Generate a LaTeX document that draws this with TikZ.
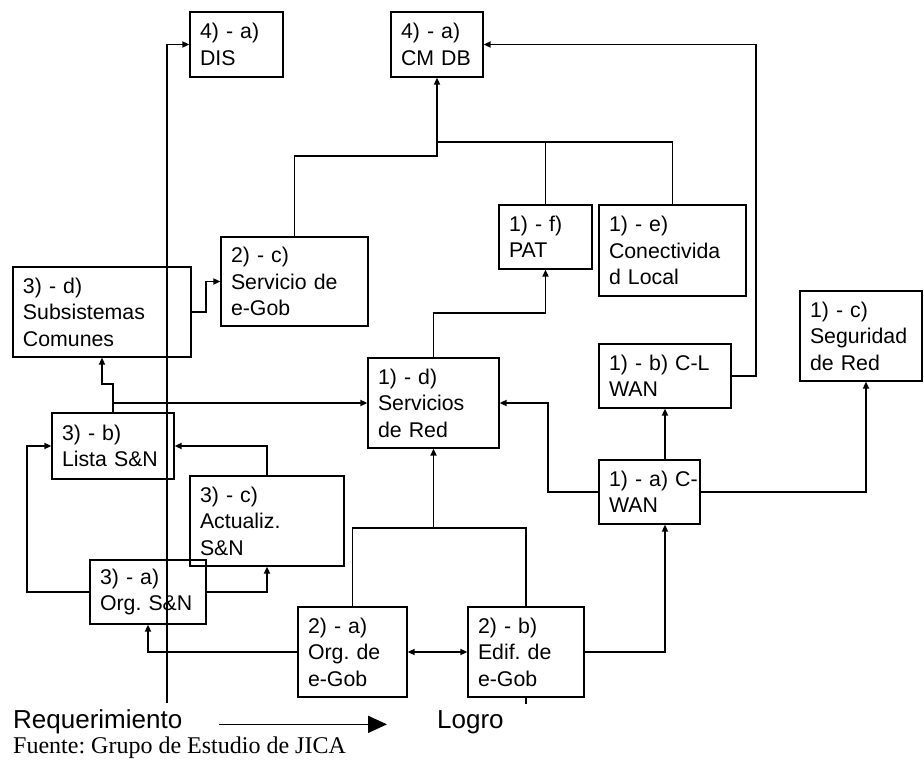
\documentclass[tikz,border=0pt]{standalone}
\usepackage{fontspec}
\setmainfont{Liberation Sans}
\newfontfamily\fuentefont{Liberation Serif}
\usetikzlibrary{arrows.meta}
\begin{document}
\frenchspacing
\begin{tikzpicture}[x=1pt,y=-1pt,
 box/.style={draw, line width=1.3pt, align=left, inner xsep=10pt, inner ysep=0pt, font=\fontsize{21.3}{26.5}\selectfont},
 conn/.style={line width=1.9pt},
 arr/.style={conn, -{Triangle[length=7pt,width=6pt]}},
 darr/.style={conn, {Triangle[length=7pt,width=6pt]}-{Triangle[length=7pt,width=6pt]}},
 lbl/.style={anchor=base west, inner sep=0pt, font=\fontsize{26}{30}\selectfont},
]
\useasboundingbox (0,0) rectangle (924,765);

% boxes
\node[box, minimum width=93pt, minimum height=65pt, text width=73pt] (nDIS) at (236.5,44.5) {4) - a)\\DIS};
\node[box, minimum width=92pt, minimum height=65pt, text width=72pt] (nCMDB) at (437,44.5) {4) - a)\\CM DB};
\node[box, minimum width=93pt, minimum height=64pt, text width=73pt] (nPAT) at (545.5,237) {1) - f)\\PAT};
\node[box, minimum width=147pt, minimum height=91pt, text width=127pt] (nCON) at (672.5,250.5) {1) - e)\\Conectivida\\d Local};
\node[box, minimum width=147pt, minimum height=89pt, text width=127pt] (nSG) at (294.5,281.5) {2) - c)\\Servicio de\\e-Gob};
\node[box, minimum width=178pt, minimum height=90pt, text width=158pt] (nSC) at (102,312) {3) - d)\\Subsistemas\\Comunes};
\node[box, minimum width=122pt, minimum height=90pt, text width=102pt] (nSEG) at (861,336) {1) - c)\\Seguridad\\de Red};
\node[box, minimum width=132pt, minimum height=64pt, text width=112pt] (nCLW) at (665,376) {\mbox{1) - b) C-L}\\WAN};
\node[box, minimum width=131pt, minimum height=90pt, text width=111pt] (nSR) at (433.5,403) {1) - d)\\Servicios\\de Red};
\node[box, minimum width=122pt, minimum height=66pt, text width=102pt] (nLS) at (113,446) {3) - b)\\Lista S\&N};
\node[box, minimum width=101pt, minimum height=64pt, text width=81pt] (nCW) at (649.5,492) {\mbox{1) - a) C-}\\WAN};
\node[box, minimum width=154pt, minimum height=90pt, text width=134pt] (nAC) at (267,521) {3) - c)\\Actualiz.\\S\&N};
\node[box, minimum width=116pt, minimum height=64pt, text width=96pt] (nOS) at (148,592) {3) - a)\\Org. S\&N};
\node[box, minimum width=109pt, minimum height=90pt, text width=89pt] (nOG) at (352.5,652) {2) - a)\\Org. de\\e-Gob};
\node[box, minimum width=116pt, minimum height=90pt, text width=96pt] (nEG) at (526,652) {2) - b)\\Edif. de\\e-Gob};

% junction coordinates
\coordinate (j1) at (437,156);
\coordinate (j2) at (437,142);
\coordinate (r1) at (756,44.5);
\coordinate (lb) at (167,703);
\coordinate (bus2) at (433.5,528);
\coordinate (l1) at (27,446);
\coordinate (k1) at (548,403);
\coordinate (p1) at (546,313);

% connectors
\draw[arr] (nSG.north) |- (j1) -- (nCMDB.south);
\draw[conn] (nPAT.north) -- (nPAT.north |- j2);
\draw[conn] (nCON.north) |- (j2) -- (j1);
\draw[arr] (nCLW.east) -| (r1) -- (nCMDB.east);
\draw[arr] (lb) |- (nDIS.west);
\draw[arr] (nSR.north) |- (nPAT.south |- p1) -- (nPAT.south);
\draw[arr] (nCW.north -| nCLW.south) -- (nCLW.south);
\draw[arr] (nCW.east) -| ([xshift=5pt]nSEG.south);
\draw[arr] (nCW.west) -| (k1) -- (nSR.east);
\draw[arr] (nEG.east) -| (nCW.south -| nCLW.south);
\draw[darr] (nOG.east) -- (nEG.west);
\draw[conn] (nOG.north) |- (nEG.north |- bus2) -- (nEG.north);
\draw[arr] (bus2) -- (nSR.south);
\draw[conn] (nEG.south) -- ++(0,6);
\draw[arr] (nOG.west) -| (nOS.south);
\draw[arr] (nOS.west) -| (l1) -- (nLS.west);
\draw[arr] (nOS.east) -| (nAC.south);
\draw[arr] (nAC.north) |- (nLS.east);
\draw[arr] (nLS.north) -- ++(0,-28) -| (nSC.south);
\draw[arr] (nLS.north |- nSR.west) -- (nSR.west);
\draw[arr] (nSC.east) -- ++(14,0) |- (nSG.west);

% bottom texts
\node[lbl] (req) at (13,728) {Requerimiento};
\node[lbl] (logro) at (437,728) {Logro};
\draw[line width=1.6pt, -{Triangle[length=19pt,width=17pt]}] ([xshift=37pt,yshift=1pt]req.mid east) -- ([xshift=-50pt,yshift=1pt]logro.mid west);
\node[anchor=base west, inner sep=0pt, font=\fuentefont\fontsize{24}{28}\selectfont] (src) at (13,753) {Fuente: Grupo de Estudio de JICA};
\end{tikzpicture}
\end{document}
